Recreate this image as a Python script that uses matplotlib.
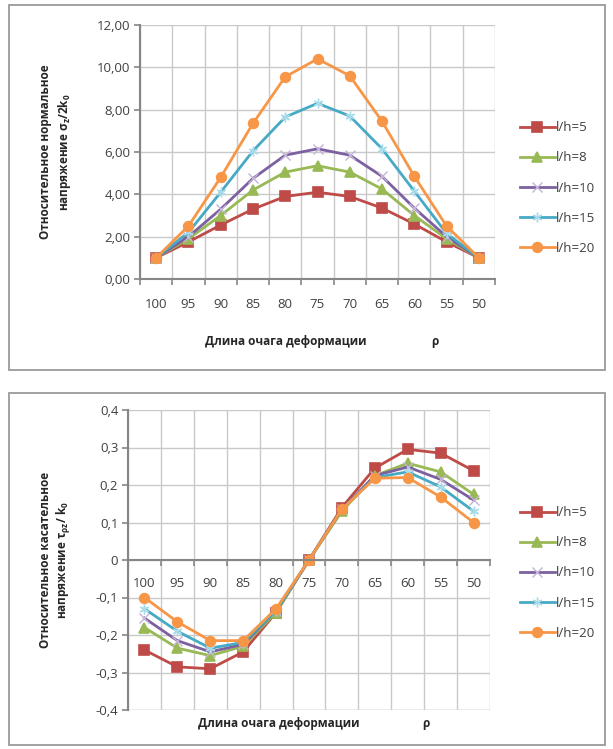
import numpy as np
import matplotlib
matplotlib.use('Agg')
import matplotlib.pyplot as plt
from matplotlib.patches import Rectangle

plt.rcParams['font.family'] = ['Open Sans', 'DejaVu Sans']
plt.rcParams['mathtext.fontset'] = 'custom'
plt.rcParams['mathtext.rm'] = 'Open Sans'
plt.rcParams['mathtext.it'] = 'Open Sans'
plt.rcParams['mathtext.bf'] = 'Open Sans:bold'
plt.rcParams['mathtext.default'] = 'regular'

# categories (rho)
rho = ['100', '95', '90', '85', '80', '75', '70', '65', '60', '55', '50']
series = ['l/h=5', 'l/h=8', 'l/h=10', 'l/h=15', 'l/h=20']

# relative normal stress sigma_z / 2k0
sigma_5 = [1.00, 1.75, 2.55, 3.30, 3.90, 4.10, 3.90, 3.35, 2.60, 1.75, 1.00]
sigma_8 = [1.00, 1.90, 3.00, 4.20, 5.05, 5.35, 5.05, 4.25, 3.00, 1.90, 1.00]
sigma_10 = [1.00, 2.00, 3.30, 4.75, 5.85, 6.15, 5.85, 4.85, 3.35, 2.00, 1.00]
sigma_15 = [1.00, 2.20, 4.10, 6.05, 7.65, 8.30, 7.70, 6.15, 4.15, 2.15, 1.00]
sigma_20 = [1.00, 2.50, 4.80, 7.35, 9.55, 10.40, 9.60, 7.45, 4.85, 2.50, 1.00]

# relative shear stress tau_rz / k0
tau_5 = [-0.240, -0.285, -0.290, -0.245, -0.140, 0.0, 0.140, 0.245, 0.295, 0.285, 0.238]
tau_8 = [-0.180, -0.235, -0.255, -0.230, -0.140, 0.0, 0.130, 0.225, 0.258, 0.235, 0.175]
tau_10 = [-0.155, -0.215, -0.245, -0.225, -0.135, 0.0, 0.135, 0.225, 0.248, 0.215, 0.160]
tau_15 = [-0.130, -0.190, -0.235, -0.220, -0.135, 0.0, 0.135, 0.220, 0.235, 0.195, 0.130]
tau_20 = [-0.100, -0.165, -0.215, -0.215, -0.130, 0.0, 0.135, 0.218, 0.220, 0.168, 0.100]

colors = ['#BE4B48', '#98B954', '#7D60A0', '#46AAC5', '#F79646']
marker_c = ['#BE4B48', '#98B954', '#C3B4D8', '#A9DCEA', '#F79646']
markers = ['s', '^', 'x', (6, 2, 0), 'o']
msizes = [7, 6.5, 6.5, 7, 7]
mews = [1.2, 1.2, 1.0, 1.0, 1.2]

W, H = 613, 749
fig = plt.figure(figsize=(W / 100, H / 100), dpi=100)


def frac(x0, y0, x1, y1):
    # pixel box (top-left origin) -> figure fraction rect
    return [x0 / W, 1 - y1 / H, (x1 - x0) / W, (y1 - y0) / H]


# outer boxes
for (x0, y0, x1, y1) in [(9, 5, 605, 370), (9, 393, 605, 745)]:
    fig.patches.append(Rectangle((x0 / W, 1 - y1 / H), (x1 - x0) / W, (y1 - y0) / H,
                                 transform=fig.transFigure, fill=False,
                                 edgecolor='#9a9a9a', linewidth=1.3))

x = np.arange(len(rho))
grid_c = '#c9c9c9'
axis_c = '#868686'
text_c = '#404040'


def style_axes(ax, ylim, yticks, ylabels):
    ax.set_xlim(-0.5, len(rho) - 0.5)
    ax.set_ylim(*ylim)
    ax.set_yticks(yticks)
    ax.set_yticklabels(ylabels)
    ax.set_xticks(x)
    ax.set_xticklabels(rho)
    ax.set_xticks(np.arange(-0.5, len(rho)), minor=True)
    ax.tick_params(axis='x', which='major', length=0, labelsize=9.5, colors=text_c)
    ax.tick_params(axis='x', which='minor', length=4, color=axis_c, width=1.2)
    ax.tick_params(axis='y', length=4, color=axis_c, width=1.2, labelsize=9.5,
                   labelcolor=text_c, pad=3)
    ax.grid(True, which='minor', axis='x', color=grid_c, linewidth=1)
    ax.grid(True, which='major', axis='y', color=grid_c, linewidth=1)
    ax.set_axisbelow(True)
    for s in ['top', 'right']:
        ax.spines[s].set_visible(False)
    for s in ['left', 'bottom']:
        ax.spines[s].set_color(axis_c)
        ax.spines[s].set_linewidth(1.5)


def draw_series(ax, data):
    for vals, c, mc, m, ms, mw, lab in zip(data, colors, marker_c, markers,
                                           msizes, mews, series):
        ax.plot(x, vals, color=c, lw=2, marker=m, ms=ms, mec=mc, mfc=mc,
                mew=mw, label=lab, clip_on=False)


def add_legend(ax, ycenter):
    ax.legend(loc='center left', bbox_to_anchor=(515 / W, 1 - ycenter / H),
              bbox_transform=fig.transFigure, frameon=False, fontsize=9.5,
              handlelength=2.6, handletextpad=0.1, labelspacing=1.3,
              borderaxespad=0, labelcolor=text_c)


label_kw = dict(ha='center', va='center', fontsize=8.5, fontweight='bold',
                color='#262626')

# ---------- top chart ----------
ax1 = fig.add_axes(frac(140, 25, 495, 279))
draw_series(ax1, [sigma_5, sigma_8, sigma_10, sigma_15, sigma_20])
yt1 = np.arange(0, 12.01, 2)
style_axes(ax1, (0, 12), yt1, [('%.2f' % v).replace('.', ',') for v in yt1])
ax1.tick_params(axis='x', which='major', pad=14)
fig.text(56 / W, 1 - 152 / H, 'Относительное нормальное\nнапряжение $\\sigma_z$/2k$_0$',
         rotation=90, linespacing=1.3, **label_kw)
fig.text(286 / W, 1 - 342 / H, 'Длина очага деформации', **label_kw)
fig.text(435 / W, 1 - 342 / H, 'ρ', **label_kw)
add_legend(ax1, 188)

# ---------- bottom chart ----------
ax2 = fig.add_axes(frac(128, 410, 490, 710))
draw_series(ax2, [tau_5, tau_8, tau_10, tau_15, tau_20])
yt2 = np.round(np.arange(-0.4, 0.41, 0.1), 1)
style_axes(ax2, (-0.4, 0.4), yt2,
           [('0' if v == 0 else ('%.1f' % v).replace('.', ',')) for v in yt2])
ax2.spines['bottom'].set_position(('data', 0))
ax2.tick_params(axis='x', which='major', pad=12)
ax2.axhline(-0.4, color=grid_c, lw=1, zorder=0)
fig.text(56 / W, 1 - 560 / H, 'Относительное касательное\nнапряжение $\\tau_{\\rho z}$/ k$_0$',
         rotation=90, linespacing=1.3, **label_kw)
fig.text(279 / W, 1 - 723 / H, 'Длина очага деформации', **label_kw)
fig.text(426 / W, 1 - 723 / H, 'ρ', **label_kw)
add_legend(ax2, 573)

fig.savefig('out.png', dpi=100)
